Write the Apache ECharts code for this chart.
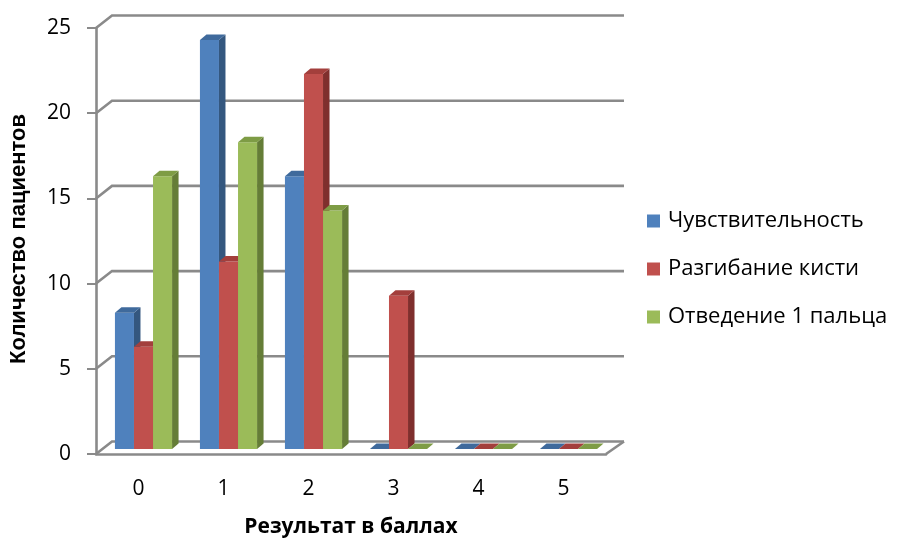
<!DOCTYPE html>
<html>
<head>
<meta charset="utf-8">
<script src="https://cdn.jsdelivr.net/npm/echarts@6/dist/echarts.min.js"></script>
<style>
  html, body { margin: 0; padding: 0; background: #fff; }
  #chart { width: 898px; height: 540px; }
</style>
</head>
<body>
<div id="chart"></div>
<script>
// Score categories and patient counts per test
const categories = ['0', '1', '2', '3', '4', '5'];
const sensitivity = [8, 24, 16, 0, 0, 0];
const wristExtension = [6, 11, 22, 9, 0, 0];
const thumbAbduction = [16, 18, 14, 0, 0, 0];
const yTicks = [0, 5, 10, 15, 20, 25];

const seriesNames = ['Чувствительность', 'Разгибание кисти', 'Отведение 1 пальца'];
const seriesValues = [sensitivity, wristExtension, thumbAbduction];

// Face colours for each series: front, top, side
const palettes = [
  { front: '#4F81BD', top: '#3F6A9C', side: '#34577F' },
  { front: '#C0504D', top: '#A33F3C', side: '#7F2F2D' },
  { front: '#9BBB59', top: '#7E9C45', side: '#657D37' }
];

const FONT = '"Open Sans", "Noto Sans", sans-serif';
const TITLE_FONT_Y = '"Liberation Sans", Arial, sans-serif';
const GRID_COLOR = '#8A8A8A';

// depth of the back wall and of each bar (pixels)
const WALL_DX = 16, WALL_DY = 12.5;
const BAR_DX = 6.5, BAR_DY = 5.5;
const BAR_SHIFT_X = 5, BAR_SHIFT_Y = 5;
const BAR_FRACTION = 0.224;

const chart = echarts.init(document.getElementById('chart'), null, { renderer: 'canvas' });

function wallRenderer(params, api) {
  const cs = params.coordSys;
  const v = api.value(0);
  const y = api.coord([0, v])[1];
  const x0 = cs.x, x1 = cs.x + cs.width;
  const style = { stroke: GRID_COLOR, lineWidth: 2.6, fill: null };
  const children = [{
    type: 'polyline',
    shape: { points: [[x0, y], [x0 + WALL_DX, y - WALL_DY], [x1 + WALL_DX + 2, y - WALL_DY]] },
    style: style
  }];
  if (v === 0) {
    children.push({
      type: 'polyline',
      shape: { points: [[x1, y], [x1 + WALL_DX + 2, y - WALL_DY]] },
      style: style
    });
  }
  return { type: 'group', children: children };
}

function barRenderer(si) {
  const pal = palettes[si];
  return function (params, api) {
    const cat = api.value(0);
    const val = api.value(1);
    const band = api.size([1, 0])[0];
    const bw = band * BAR_FRACTION;
    const base = api.coord([cat, 0]);
    const x0 = base[0] - 1.5 * bw + si * bw + BAR_SHIFT_X;
    const x1 = x0 + bw;
    const yb = base[1] - BAR_SHIFT_Y;
    const yt = api.coord([cat, val])[1] - BAR_SHIFT_Y;
    const children = [];
    if (yb - yt > 0.01) {
      children.push({
        type: 'polygon',
        shape: { points: [[x1, yt], [x1 + BAR_DX, yt - BAR_DY], [x1 + BAR_DX, yb - BAR_DY], [x1, yb]] },
        style: { fill: pal.side }
      });
      children.push({
        type: 'rect',
        shape: { x: x0, y: yt, width: bw, height: yb - yt },
        style: { fill: pal.front }
      });
    }
    children.push({
      type: 'polygon',
      shape: { points: [[x0, yt], [x0 + BAR_DX, yt - BAR_DY], [x1 + BAR_DX, yt - BAR_DY], [x1, yt]] },
      style: { fill: pal.top }
    });
    return { type: 'group', children: children };
  };
}

const series = [{
  name: 'wall',
  type: 'custom',
  z: 1,
  silent: true,
  renderItem: wallRenderer,
  data: yTicks.map(v => [v])
}];

seriesNames.forEach((name, si) => {
  series.push({
    name: name,
    type: 'custom',
    z: 3,
    itemStyle: { color: palettes[si].front },
    renderItem: barRenderer(si),
    encode: { x: 0, y: 1 },
    data: seriesValues[si].map((v, i) => [i, v])
  });
});

chart.setOption({
  animation: false,
  textStyle: { fontFamily: FONT },
  grid: { left: 96, right: 292, top: 28, bottom: 86 },
  xAxis: {
    type: 'category',
    data: categories,
    axisLine: { lineStyle: { color: GRID_COLOR, width: 2.6 } },
    axisTick: { length: 9, lineStyle: { color: GRID_COLOR, width: 2 } },
    axisLabel: { fontSize: 21, color: '#000', margin: 25, fontFamily: FONT },
    splitLine: { show: false }
  },
  yAxis: {
    type: 'value',
    min: 0,
    max: 25,
    interval: 5,
    axisLine: { show: true, lineStyle: { color: GRID_COLOR, width: 2.6 } },
    axisTick: { show: true, length: 9, lineStyle: { color: GRID_COLOR, width: 2 } },
    axisLabel: { fontSize: 21, color: '#000', margin: 25, fontFamily: FONT },
    splitLine: { show: false }
  },
  legend: {
    orient: 'vertical',
    left: 647,
    top: 210,
    padding: 0,
    itemWidth: 13,
    itemHeight: 13,
    itemGap: 26,
    icon: 'rect',
    data: seriesNames,
    textStyle: { fontSize: 22, color: '#000', fontFamily: FONT, lineHeight: 22, padding: [0, 0, 0, 3] }
  },
  graphic: [
    {
      type: 'text',
      x: 351,
      y: 527,
      style: {
        text: 'Результат в баллах',
        font: 'bold 21px ' + FONT,
        fill: '#000',
        textAlign: 'center',
        textVerticalAlign: 'middle'
      }
    },
    {
      type: 'text',
      x: 19,
      y: 239,
      rotation: Math.PI / 2,
      style: {
        text: 'Количество пациентов',
        font: 'bold 22px ' + TITLE_FONT_Y,
        fill: '#000',
        textAlign: 'center',
        textVerticalAlign: 'middle'
      }
    }
  ],
  series: series
});
</script>
</body>
</html>
